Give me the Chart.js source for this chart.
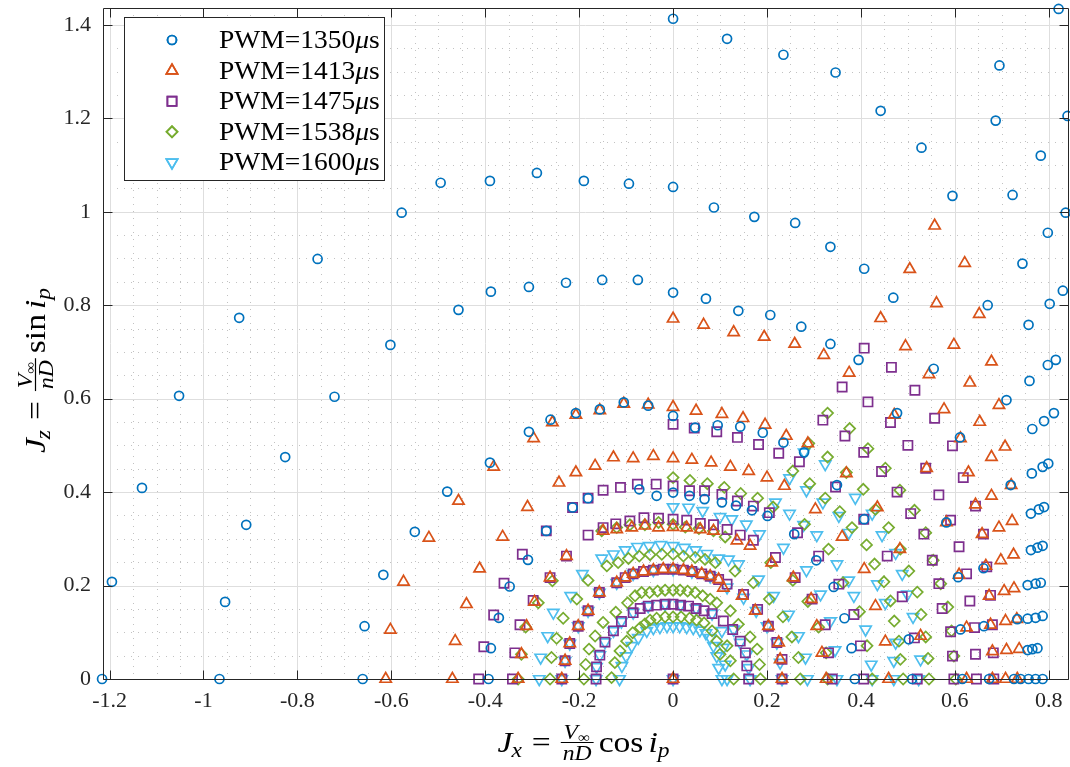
<!DOCTYPE html>
<html>
<head>
<meta charset="utf-8">
<script src="https://cdn.jsdelivr.net/npm/chart.js@4.4.1/dist/chart.umd.min.js"></script>
<style>
  html, body { margin: 0; padding: 0; background: #fff; }
  #wrap { width: 1070px; height: 767px; }
</style>
</head>
<body>
<div id="wrap"><canvas id="c" width="1070" height="767"></canvas></div>
<script>
// axis limits and ticks (MATLAB "axis tight")
const xLimits = [-1.214, 0.841];
const yLimits = [0, 1.436];
const xTicks = [-1.2, -1, -0.8, -0.6, -0.4, -0.2, 0, 0.2, 0.4, 0.6, 0.8];
const yTicks = [0, 0.2, 0.4, 0.6, 0.8, 1, 1.2, 1.4];
const seriesLabels = ["1350", "1413", "1475", "1538", "1600"];

// PWM = 1350 us  [Jx, Jz]
const pwm1350 = [
  [-1.216,0],[-1.195,0.208],[-1.131,0.409],[-1.052,0.606],[-0.924,0.773],[-0.757,0.899],[-0.578,0.998],[-0.495,1.062],
  [-0.39,1.066],[-0.29,1.083],[-0.19,1.066],[-0.094,1.06],[0,1.053],[0.087,1.009],[0.173,0.989],[0.26,0.976],
  [0.335,0.925],[0.407,0.878],[0.469,0.816],
  [-0.966,0],[-0.954,0.165],[-0.909,0.33],[-0.826,0.475],[-0.721,0.604],[-0.602,0.715],[-0.457,0.79],[-0.388,0.829],
  [-0.307,0.839],[-0.228,0.848],[-0.151,0.854],[-0.075,0.854],[0,0.827],[0.07,0.814],[0.139,0.788],[0.207,0.779],
  [0.273,0.754],[0.335,0.717],[0.395,0.683],
  [-0.661,0],[-0.657,0.113],[-0.617,0.223],[-0.55,0.315],[-0.481,0.401],[-0.39,0.463],[-0.307,0.529],[-0.261,0.555],
  [-0.207,0.569],[-0.156,0.577],[-0.105,0.592],[-0.053,0.585],[0,0.563],[0.047,0.538],[0.095,0.543],[0.143,0.54],
  [0.191,0.527],[0.235,0.506],[0.279,0.485],[0.349,0.415],[0.407,0.342],
  [-0.393,0],[-0.388,0.066],[-0.371,0.131],[-0.348,0.198],[-0.309,0.255],[-0.27,0.317],[-0.214,0.367],[-0.181,0.387],
  [-0.072,0.406],[-0.035,0.392],[0,0.399],[0.035,0.392],[0.067,0.385],[0.104,0.378],[0.134,0.371],[0.168,0.361],
  [0.201,0.349],[0.258,0.31],[0.305,0.254],[0.342,0.197],[0.365,0.13],[0.38,0.066],[0.387,0],
  [0,1.413],[0.115,1.37],[0.235,1.336],[0.346,1.298],[0.442,1.216],[0.529,1.137],[0.595,1.034],
  [0.821,1.434],[0.695,1.313],[0.687,1.195],[0.84,1.205],[0.783,1.12],[0.723,1.036],[0.836,0.998],[0.798,0.955],
  [0.744,0.889],[0.83,0.831],[0.802,0.803],[0.67,0.8],[0.757,0.758],[0.815,0.683],[0.798,0.672],[0.555,0.664],
  [0.759,0.638],[0.71,0.597],[0.811,0.569],[0.79,0.552],[0.765,0.535],[0.477,0.569],[0.611,0.517],[0.799,0.461],
  [0.787,0.454],[0.764,0.44],[0.719,0.415],[0.79,0.368],[0.779,0.363],[0.762,0.354],[0.582,0.335],[0.787,0.285],
  [0.776,0.281],[0.762,0.276],[0.661,0.237],[0.607,0.218],[0.783,0.206],[0.772,0.204],[0.755,0.201],[0.787,0.135],
  [0.772,0.131],[0.755,0.129],[0.733,0.128],[0.662,0.113],[0.612,0.106],[0.502,0.085],[0.776,0.066],[0.765,0.064],
  [0.755,0.062],[0.787,0],[0.772,0],[0.757,0],[0.74,0],[0.726,0],[0.673,0],[0.616,0],[0.509,0]
];

// PWM = 1413 us
const pwm1413 = [
  [0.557,0.97],[0.621,0.89],[0.504,0.877],[0.561,0.804],[0.652,0.781],[0,0.771],[0.442,0.772],[0.065,0.758],
  [0.129,0.742],[0.194,0.732],[0.259,0.717],[0.495,0.712],[0.598,0.715],[0.321,0.693],[0.678,0.679],[0.375,0.655],
  [0.545,0.652],[0.632,0.634],[0.694,0.586],[0.577,0.577],[0.653,0.55],[0.471,0.565],[0.612,0.515],[0.707,0.497],
  [0.678,0.475],[0.54,0.451],[0.629,0.442],[0.72,0.415],[0.678,0.392],[0.644,0.373],[0.582,0.335],[0.722,0.338],
  [0.694,0.324],[0.658,0.31],[0.725,0.266],[0.698,0.254],[0.666,0.242],[0.609,0.223],[0.483,0.278],[0.726,0.194],
  [0.705,0.188],[0.673,0.178],[0.732,0.128],[0.708,0.124],[0.676,0.116],[0.625,0.11],[0.527,0.092],[0.737,0.064],
  [0.71,0.062],[0.68,0.059],[0.733,0],[0.708,0],[0.68,0],[0.625,0],
  [-0.612,0],[-0.602,0.105],[-0.574,0.208],[-0.52,0.302],[-0.457,0.381],[-0.382,0.454],[-0.297,0.515],[-0.257,0.549],
  [-0.207,0.565],[-0.156,0.575],[-0.105,0.589],[-0.053,0.587],[0,0.582],[0.049,0.574],[0.104,0.567],[0.149,0.558],
  [0.196,0.544],[0.241,0.52],[0.287,0.504],[0.369,0.44],[0.435,0.367],
  [-0.47,0],[-0.464,0.081],[-0.44,0.16],[-0.412,0.236],[-0.363,0.304],[-0.31,0.368],[-0.243,0.42],[-0.207,0.442],
  [-0.166,0.456],[-0.127,0.474],[-0.085,0.472],[-0.042,0.477],[0,0.472],[0.04,0.469],[0.081,0.463],[0.122,0.454],
  [0.161,0.445],[0.2,0.431],[0.237,0.413],[0.303,0.363],[0.36,0.304],[0.407,0.235],[0.431,0.156],[0.452,0.08],[0.459,0],
  [-0.33,0],[-0.323,0.053],[-0.312,0.113],[-0.295,0.165],[-0.262,0.217],[-0.227,0.263],[-0.149,0.317],[-0.12,0.32],
  [-0.088,0.324],[-0.06,0.328],[-0.031,0.324],[0,0.325],[0.029,0.324],[0.058,0.32],[0.086,0.317],[0.136,0.296],
  [0.164,0.285],[0.21,0.249],[0.256,0.217],[0.294,0.171],[0.306,0.113],[0.317,0.056],[0.326,0],
  [-0.237,0],[-0.23,0.039],[-0.22,0.076],[-0.202,0.113],[-0.181,0.146],[-0.157,0.185],[-0.12,0.206],[-0.102,0.217],
  [-0.085,0.225],[-0.063,0.23],[-0.042,0.233],[-0.021,0.235],[0,0.235],[0.022,0.233],[0.04,0.23],[0.061,0.225],
  [0.079,0.22],[0.097,0.213],[0.107,0.195],[0.147,0.178],[0.175,0.146],[0.203,0.113],[0.225,0.078],[0.228,0.042],
  [0.232,0],[0,0]
];

// PWM = 1475 us
const pwm1475 = [
  [0.407,0.708],[0.465,0.667],[0.515,0.618],[0.557,0.558],[0.595,0.499],[0.618,0.431],[0.644,0.37],[0.661,0.31],
  [0.668,0.24],[0.676,0.179],[0.68,0.116],[0.682,0.056],[0.683,0],
  [0.36,0.625],[0.415,0.593],[0.463,0.549],[0.5,0.5],[0.538,0.451],[0.566,0.394],[0.591,0.34],[0.609,0.283],
  [0.625,0.225],[0.632,0.167],[0.642,0.11],[0.644,0.053],[0.646,0],
  [0.319,0.554],[0.366,0.52],[0.406,0.485],[0.444,0.444],[0.477,0.4],[0.506,0.354],[0.534,0.31],[0.552,0.254],
  [0.566,0.204],[0.573,0.151],[0.591,0.101],[0.595,0.049],[0.598,0],
  [0,0.545],[0.045,0.537],[0.093,0.529],[0.137,0.517],[0.182,0.502],[0.225,0.483],[0.269,0.465],[0.346,0.411],
  [0.406,0.342],[0.456,0.263],[0.488,0.176],[0.514,0.088],[0.52,0],
  [-0.414,0],[-0.403,0.069],[-0.382,0.137],[-0.36,0.205],[-0.321,0.267],[-0.27,0.317],[-0.214,0.367],[-0.181,0.387],
  [-0.149,0.404],[-0.112,0.41],[-0.076,0.417],[-0.036,0.417],[0,0.413],[0.035,0.403],[0.067,0.403],[0.104,0.395],
  [0.137,0.381],[0.171,0.37],[0.205,0.356],[0.265,0.313],[0.31,0.263],[0.353,0.203],[0.385,0.138],[0.399,0.071],[0.406,0],
  [-0.342,0],[-0.337,0.056],[-0.326,0.116],[-0.298,0.168],[-0.262,0.217],[-0.227,0.263],[-0.181,0.308],[-0.149,0.324],
  [-0.122,0.332],[-0.092,0.338],[-0.062,0.345],[-0.031,0.344],[0,0.342],[0.029,0.34],[0.058,0.333],[0.086,0.33],
  [0.115,0.32],[0.143,0.308],[0.171,0.297],[0.218,0.26],[0.26,0.217],[0.296,0.171],[0.324,0.116],[0.331,0.056],[0.339,0],
  [-0.237,0],[-0.23,0.039],[-0.22,0.076],[-0.202,0.113],[-0.181,0.146],[-0.157,0.185],[-0.12,0.206],[-0.102,0.217],
  [-0.085,0.225],[-0.063,0.23],[-0.042,0.233],[-0.021,0.235],[0,0.235],[0.022,0.233],[0.04,0.23],[0.061,0.225],
  [0.079,0.22],[0.097,0.213],[0.115,0.203],[0.15,0.181],[0.18,0.149],[0.203,0.113],[0.221,0.078],[0.232,0.042],[0.232,0],
  [-0.164,0],[-0.163,0.026],[-0.156,0.051],[-0.145,0.079],[-0.127,0.103],[-0.11,0.123],[-0.085,0.142],[-0.07,0.151],
  [-0.053,0.156],[-0.035,0.158],[-0.017,0.16],[0,0.16],[0.016,0.158],[0.033,0.156],[0.049,0.151],[0.066,0.146],
  [0.083,0.14],[0.107,0.124],[0.127,0.106],[0.143,0.081],[0.154,0.056],[0.157,0.028],[0.161,0],[0,0]
];

// PWM = 1538 us
const pwm1538 = [
  [0.329,0.569],[0.376,0.536],[0.415,0.493],[0.452,0.451],[0.483,0.404],[0.514,0.361],[0.538,0.313],[0.554,0.254],
  [0.57,0.204],[0.585,0.154],[0.593,0.103],[0.598,0.049],[0.602,0],
  [0.289,0.504],[0.329,0.475],[0.369,0.442],[0.405,0.406],[0.431,0.363],[0.459,0.324],[0.484,0.278],[0.502,0.231],
  [0.52,0.186],[0.528,0.138],[0.538,0.09],[0.543,0.044],[0.545,0],
  [0.255,0.445],[0.291,0.418],[0.324,0.387],[0.355,0.358],[0.381,0.324],[0.412,0.287],[0.429,0.246],[0.449,0.208],
  [0.463,0.167],[0.471,0.124],[0.481,0.081],[0.484,0.042],[0.49,0],
  [0,0.431],[0.036,0.425],[0.073,0.418],[0.109,0.41],[0.144,0.397],[0.18,0.387],[0.213,0.368],[0.28,0.331],
  [0.331,0.278],[0.362,0.206],[0.397,0.144],[0.413,0.071],[0.424,0],
  [-0.33,0],[-0.323,0.053],[-0.314,0.111],[-0.287,0.163],[-0.257,0.21],[-0.152,0.317],[-0.12,0.324],[-0.092,0.33],
  [-0.06,0.33],[-0.031,0.335],[0,0.331],[0.026,0.325],[0.055,0.322],[0.086,0.317],[0.111,0.304],[0.208,0.249],
  [0.255,0.211],[0.287,0.166],[0.31,0.111],[0.326,0.056],[0.329,0],
  [-0.262,0],[-0.259,0.046],[-0.248,0.087],[-0.234,0.13],[-0.205,0.171],[-0.181,0.211],[-0.141,0.242],[-0.117,0.249],
  [-0.095,0.258],[-0.072,0.263],[-0.049,0.266],[-0.024,0.267],[0,0.267],[0.022,0.263],[0.047,0.26],[0.068,0.256],
  [0.09,0.249],[0.132,0.231],[0.171,0.206],[0.205,0.171],[0.234,0.133],[0.253,0.09],[0.267,0.046],[0.271,0],
  [-0.19,0],[-0.186,0.031],[-0.179,0.064],[-0.166,0.092],[-0.149,0.121],[-0.122,0.143],[-0.097,0.163],[-0.081,0.178],
  [-0.067,0.185],[-0.05,0.185],[-0.033,0.188],[-0.017,0.19],[0,0.19],[0.015,0.19],[0.031,0.188],[0.047,0.185],
  [0.063,0.178],[0.079,0.171],[0.093,0.163],[0.122,0.146],[0.139,0.117],[0.164,0.09],[0.179,0.064],[0.184,0.031],[0.186,0],
  [-0.131,0.003],[-0.124,0.035],[-0.113,0.06],[-0.099,0.081],[-0.086,0.099],[-0.07,0.11],[-0.06,0.118],[-0.049,0.126],
  [-0.035,0.13],[-0.017,0.133],[0,0.133],[0.017,0.133],[0.035,0.13],[0.05,0.126],[0.066,0.12],[0.083,0.103],
  [0.093,0.081],[0.1,0.053],[0.115,0.071],[0.122,0.039],[0.129,0]
];

// PWM = 1600 us
const pwm1600 = [
  [0.279,0.485],[0.324,0.46],[0.388,0.388],[0.424,0.354],[0.445,0.308],[0.474,0.27],[0.488,0.225],[0.499,0.181],
  [0.511,0.133],[0.474,0.078],[0.527,0.042],[0.523,0],
  [0.248,0.43],[0.284,0.404],[0.319,0.378],[0.353,0.349],[0.374,0.313],[0.435,0.203],[0.452,0.163],[0.47,0.039],[0.47,0],
  [0.218,0.378],[0.248,0.354],[0.278,0.33],[0.306,0.308],[0.349,0.246],[0.374,0.211],[0.385,0.178],[0.41,0.106],
  [0.422,0.031],[0.424,0],
  [0,0.368],[0.033,0.367],[0.063,0.36],[0.1,0.347],[0.125,0.342],[0.156,0.331],[0.184,0.31],[0.235,0.281],
  [0.284,0.233],[0.314,0.181],[0.335,0.124],[0.345,0.062],[0.349,0],
  [-0.285,0],[-0.282,0.046],[-0.267,0.092],[-0.255,0.142],[-0.218,0.178],[-0.193,0.225],[-0.152,0.258],[-0.127,0.267],
  [-0.102,0.276],[-0.076,0.283],[-0.051,0.285],[-0.026,0.287],[0,0.285],[0.024,0.281],[0.048,0.276],[0.072,0.268],
  [0.097,0.258],[0.118,0.256],[0.139,0.246],[0.182,0.213],[0.214,0.178],[0.246,0.138],[0.267,0.092],[0.282,0.046],[0.286,0],
  [-0.237,0],[-0.23,0.039],[-0.22,0.076],[-0.202,0.113],[-0.181,0.146],[-0.157,0.185],[-0.12,0.206],[-0.085,0.225],
  [-0.042,0.233],[0,0.235],[0.04,0.23],[0.079,0.22],[0.115,0.196],[0.15,0.174],[0.177,0.146],[0.2,0.113],
  [0.221,0.078],[0.228,0.035],[0.232,0],
  [-0.164,0],[-0.163,0.026],[-0.156,0.051],[-0.145,0.079],[-0.127,0.103],[-0.11,0.123],[-0.085,0.142],[-0.053,0.156],
  [-0.017,0.16],[0.016,0.158],[0.049,0.151],[0.083,0.14],[0.129,0.106],[0.143,0.078],[0.157,0.053],[0.161,0.024],[0.164,0],
  [0.104,0.103],[0.107,0.067],[0.111,0.031],[0.115,0],
  [-0.114,0],[-0.109,0.028],[-0.1,0.049],[-0.088,0.071],[-0.074,0.088],[-0.056,0.103],[-0.042,0.109],[-0.028,0.111],
  [-0.013,0.113],[0,0.113],[0.014,0.113],[0.029,0.111],[0.043,0.109],[0.057,0.104],[0.07,0.098],[0.079,0.088],
  [0.086,0.071],[0.093,0.049],[0.097,0.024],[0.104,0],[0,0]
];

const FONT = "'Liberation Serif', 'DejaVu Serif', serif";
const INK = "#262626";
// plot box in the page (pixels)
const box = { left: 103, right: 1068, top: 8, bottom: 679 };

const styles = [
  { color: "#0072BD", pointStyle: "circle",   radius: 4.5, rotation: 0 },
  { color: "#D95319", pointStyle: "triangle", radius: 6.5, rotation: 0 },
  { color: "#7E2F8E", pointStyle: "rect",     radius: 6.5, rotation: 0 },
  { color: "#77AC30", pointStyle: "rectRot",  radius: 5.5, rotation: 0 },
  { color: "#4DBEEE", pointStyle: "triangle", radius: 6.5, rotation: 180 }
];
const allSeries = [pwm1350, pwm1413, pwm1475, pwm1538, pwm1600];

const datasets = allSeries.map((pts, i) => ({
  label: "PWM=" + seriesLabels[i] + "\u03bcs",
  data: pts.map(([x, y]) => ({ x, y })),
  pointStyle: styles[i].pointStyle,
  pointRotation: styles[i].rotation,
  pointRadius: styles[i].radius,
  pointHoverRadius: styles[i].radius,
  pointBorderColor: styles[i].color,
  pointBackgroundColor: "rgba(0,0,0,0)",
  pointBorderWidth: 1.7,
  showLine: false,
  clip: false
}));

function crisp(v) { return Math.round(v) + 0.5; }

// pin the plot area to the reference box
const pinArea = {
  id: "pinArea",
  afterLayout(chart) {
    const { x, y } = chart.scales;
    const a = chart.chartArea;
    x.left = box.left; x.right = box.right; x.width = box.right - box.left;
    y.top = box.top; y.bottom = box.bottom; y.height = box.bottom - box.top;
    x.top = box.bottom; x.bottom = x.top + 88; x.height = 88;
    y.left = 0; y.right = box.left; y.width = box.left;
    if (x.configure) x.configure();
    if (y.configure) y.configure();
    a.left = box.left; a.right = box.right; a.top = box.top; a.bottom = box.bottom;
    a.width = box.right - box.left; a.height = box.bottom - box.top;
  }
};

// minor + major grid, drawn under the markers
const gridPlugin = {
  id: "matlabGrid",
  beforeDatasetsDraw(chart) {
    const { ctx, chartArea: a, scales: { x, y } } = chart;
    ctx.save();
    ctx.lineWidth = 1;
    ctx.strokeStyle = "#c2c2c2";
    ctx.setLineDash([1, 6]);
    for (let k = -24; k <= 16; k++) {
      if (k % 4 === 0) continue;
      const px = crisp(x.getPixelForValue(k * 0.05));
      if (px < a.left || px > a.right) continue;
      ctx.beginPath(); ctx.moveTo(px, a.top); ctx.lineTo(px, a.bottom); ctx.stroke();
    }
    for (let k = 1; k <= 28; k++) {
      if (k % 4 === 0) continue;
      const py = crisp(y.getPixelForValue(k * 0.05));
      if (py < a.top) continue;
      ctx.beginPath(); ctx.moveTo(a.left, py); ctx.lineTo(a.right, py); ctx.stroke();
    }
    ctx.setLineDash([]);
    ctx.strokeStyle = "#dedede";
    xTicks.forEach(v => {
      const px = crisp(x.getPixelForValue(v));
      ctx.beginPath(); ctx.moveTo(px, a.top); ctx.lineTo(px, a.bottom); ctx.stroke();
    });
    yTicks.forEach(v => {
      const py = crisp(y.getPixelForValue(v));
      ctx.beginPath(); ctx.moveTo(a.left, py); ctx.lineTo(a.right, py); ctx.stroke();
    });
    ctx.restore();
  }
};

function drawMarker(ctx, st, cx, cy) {
  ctx.save();
  ctx.strokeStyle = st.color;
  ctx.lineWidth = 1.7;
  if (Chart.helpers && Chart.helpers.drawPoint) {
    ctx.fillStyle = "rgba(0,0,0,0)";
    Chart.helpers.drawPoint(ctx, { pointStyle: st.pointStyle, rotation: st.rotation, radius: st.radius, borderWidth: 1.7 }, cx, cy);
    ctx.stroke();
  }
  ctx.restore();
}

// text drawn with a slight horizontal stretch to approach Computer Modern widths
function wideText(ctx, text, x, y, sx) {
  ctx.save();
  ctx.translate(x, y);
  ctx.scale(sx, 1);
  ctx.fillText(text, 0, 0);
  ctx.restore();
  return ctx.measureText(text).width * sx;
}

function mathLabel(ctx, sub, fn, cx, cy, rotate) {
  const big = 30, small = 21, fr = 20, frSub = 14, sx = 1.12, fsx = 1.18;
  const it = s => "italic " + s + "px " + FONT;
  const rm = s => s + "px " + FONT;
  ctx.save();
  ctx.translate(cx, cy);
  if (rotate) ctx.rotate(-Math.PI / 2);
  ctx.fillStyle = "#000";
  ctx.strokeStyle = "#000";
  ctx.textBaseline = "alphabetic";
  const w = (f, t, k) => { ctx.font = f; return ctx.measureText(t).width * k; };
  const wJ = w(it(big), "J", sx), wSub = w(it(small), sub, sx);
  const wEq = w(rm(big), "=", sx), gap = 10;
  const wV = w(it(fr), "V", fsx), wInf = w(rm(frSub), "\u221e", fsx), wnD = w(it(fr), "nD", fsx);
  const wNum = wV + wInf + 1;
  const wFrac = Math.max(wNum, wnD) + 4;
  const wFn = w(rm(big), fn, sx), wi = w(it(big), "i", sx), wp = w(it(small), "p", sx);
  const total = wJ + wSub + gap + wEq + gap + wFrac + 5 + wFn + 5 + wi + wp;
  let x0 = -total / 2;
  ctx.font = it(big); wideText(ctx, "J", x0, 0, sx); x0 += wJ - 1;
  ctx.font = it(small); wideText(ctx, sub, x0, 5, sx); x0 += wSub + gap;
  ctx.font = rm(big); wideText(ctx, "=", x0, 0, sx); x0 += wEq + gap;
  const barY = -9.5;
  ctx.lineWidth = 1.2;
  ctx.beginPath(); ctx.moveTo(x0, barY); ctx.lineTo(x0 + wFrac, barY); ctx.stroke();
  const nx = x0 + (wFrac - wNum) / 2;
  ctx.font = it(fr); wideText(ctx, "V", nx, barY - 4, fsx);
  ctx.font = rm(frSub); wideText(ctx, "\u221e", nx + wV, barY - 1, fsx);
  ctx.font = it(fr); wideText(ctx, "nD", x0 + (wFrac - wnD) / 2, barY + 17, fsx);
  x0 += wFrac + 5;
  ctx.font = rm(big); wideText(ctx, fn, x0, 0, sx); x0 += wFn + 5;
  ctx.font = it(big); wideText(ctx, "i", x0, 0, sx); x0 += wi;
  ctx.font = it(small); wideText(ctx, "p", x0, 5, sx);
  ctx.restore();
}

// axes box, inward ticks, legend and axis titles
const frontPlugin = {
  id: "matlabFront",
  afterDatasetsDraw(chart) {
    const { ctx, chartArea: a, scales: { x, y } } = chart;
    ctx.save();
    ctx.strokeStyle = INK;
    ctx.lineWidth = 1;
    const L = crisp(a.left), R = crisp(a.right), T = crisp(a.top), B = crisp(a.bottom);
    ctx.beginPath(); ctx.rect(L, T, R - L, B - T); ctx.stroke();
    const tl = 9;
    xTicks.forEach(v => {
      const px = crisp(x.getPixelForValue(v));
      ctx.beginPath(); ctx.moveTo(px, B); ctx.lineTo(px, B - tl);
      ctx.moveTo(px, T); ctx.lineTo(px, T + tl); ctx.stroke();
    });
    yTicks.forEach(v => {
      const py = crisp(y.getPixelForValue(v));
      ctx.beginPath(); ctx.moveTo(L, py); ctx.lineTo(L + tl, py);
      ctx.moveTo(R, py); ctx.lineTo(R - tl, py); ctx.stroke();
    });

    // legend
    const lx = 124.5, ly = 17.5, lw = 260, lh = 163;
    ctx.fillStyle = "#fff";
    ctx.fillRect(lx, ly, lw, lh);
    ctx.strokeStyle = INK;
    ctx.lineWidth = 1;
    ctx.strokeRect(lx, ly, lw, lh);
    ctx.textBaseline = "alphabetic";
    const sx = 1.1;
    styles.forEach((st, i) => {
      const cy = 40 + i * 30.6;
      drawMarker(ctx, st, 172, cy);
      ctx.fillStyle = "#000";
      ctx.font = "25px " + FONT;
      let xx = 219;
      xx += wideText(ctx, "PWM=" + seriesLabels[i], xx, cy + 8, sx);
      ctx.font = "italic 25px " + FONT;
      xx += wideText(ctx, "\u03bc", xx, cy + 8, sx);
      ctx.font = "25px " + FONT;
      wideText(ctx, "s", xx, cy + 8, sx);
    });
    ctx.restore();

    mathLabel(ctx, "x", "cos", 584, 752, false);
    mathLabel(ctx, "z", "sin", 45, 370, true);
  }
};

const fmt = v => String(Math.round(v * 10) / 10);
const noPad = s => { s.paddingTop = 0; s.paddingBottom = 0; s.paddingLeft = 0; s.paddingRight = 0; };

new Chart(document.getElementById("c"), {
  type: "scatter",
  data: { datasets },
  options: {
    responsive: false,
    animation: false,
    events: [],
    layout: { padding: { top: 8, right: 2, left: 0, bottom: 0 } },
    plugins: { legend: { display: false }, tooltip: { enabled: false } },
    scales: {
      x: {
        type: "linear",
        min: xLimits[0], max: xLimits[1],
        afterBuildTicks: s => { s.ticks = xTicks.map(v => ({ value: v })); },
        afterFit: s => { s.height = 88; noPad(s); },
        grid: { display: false, drawTicks: false },
        border: { display: false },
        ticks: { color: INK, padding: 9, font: { family: FONT, size: 22 }, callback: v => fmt(v), maxRotation: 0, autoSkip: false }
      },
      y: {
        type: "linear",
        min: yLimits[0], max: yLimits[1],
        afterBuildTicks: s => { s.ticks = yTicks.map(v => ({ value: v })); },
        afterFit: s => { s.width = 103; noPad(s); },
        grid: { display: false, drawTicks: false },
        border: { display: false },
        ticks: { color: INK, padding: 12, font: { family: FONT, size: 22 }, callback: v => fmt(v), autoSkip: false }
      }
    }
  },
  plugins: [pinArea, gridPlugin, frontPlugin]
});
</script>
</body>
</html>
